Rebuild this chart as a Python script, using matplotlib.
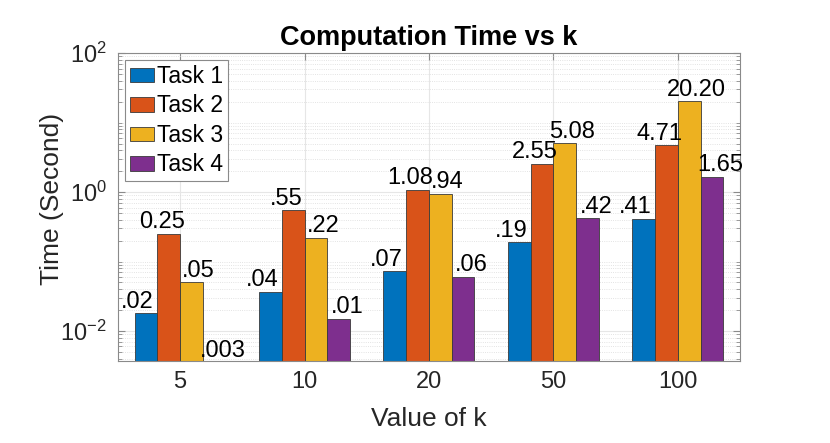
import numpy as np
import matplotlib
matplotlib.use("Agg")
import matplotlib.pyplot as plt
from matplotlib.ticker import LogLocator, FixedLocator, NullFormatter

plt.rcParams['font.family'] = ['Liberation Sans', 'DejaVu Sans']
plt.rcParams['mathtext.fontset'] = 'custom'
plt.rcParams['mathtext.rm'] = 'Liberation Sans'
plt.rcParams['mathtext.it'] = 'Liberation Sans:italic'
plt.rcParams['mathtext.bf'] = 'Liberation Sans:bold'

# data
k_values = ['5', '10', '20', '50', '100']
series_names = ['Task 1', 'Task 2', 'Task 3', 'Task 4']
task1 = [0.018, 0.037, 0.072, 0.19, 0.41]
task2 = [0.25, 0.55, 1.08, 2.55, 4.71]
task3 = [0.05, 0.22, 0.94, 5.08, 20.20]
task4 = [0.0035, 0.015, 0.06, 0.42, 1.65]
labels1 = ['.02', '.04', '.07', '.19', '.41']
labels2 = ['0.25', '.55', '1.08', '2.55', '4.71']
labels3 = ['.05', '.22', '.94', '5.08', '20.20']
labels4 = ['.003', '.01', '.06', '.42', '1.65']

series = [task1, task2, task3, task4]
labels = [labels1, labels2, labels3, labels4]
colors = ['#0072BD', '#D95319', '#EDB120', '#7E2F8E']
label_dx = [-6, -5, 5, 6]   # points, label shift per series

fig = plt.figure(figsize=(8.3, 4.43), dpi=100)
ax = fig.add_axes([0.142, 0.185, 0.7496, 0.695])

x = np.arange(1, len(k_values) + 1)
w = 0.183
for i, (vals, name) in enumerate(zip(series, series_names)):
    pos = x + (i - 1.5) * w
    ax.bar(pos, vals, width=w, color=colors[i], edgecolor='#3a3a3a',
           linewidth=0.6, label=name, zorder=2)
    for p, v, t in zip(pos, vals, labels[i]):
        ax.annotate(t, (p, v), xytext=(label_dx[i], 4), textcoords='offset points',
                    ha='center', va='baseline', fontsize=17, color='black',
                    annotation_clip=False)

ax.set_yscale('log')
ax.set_ylim(0.0037, 100)
ax.set_xlim(0.5, 5.5)
ax.set_xticks(x)
ax.set_xticklabels(k_values)
ax.yaxis.set_major_locator(FixedLocator([1e-2, 1e0, 1e2]))
ax.set_yticklabels(['$10^{-2}$', '$10^{0}$', '$10^{2}$'])
ax.yaxis.set_minor_locator(LogLocator(base=10, subs=np.arange(1, 10), numticks=50))
ax.yaxis.set_minor_formatter(NullFormatter())

ax.set_axisbelow(True)
ax.grid(True, which='major', color='#e6e6e6', linewidth=0.8, linestyle='-')
ax.grid(True, which='minor', axis='y', color='#dadada', linewidth=0.6, linestyle=':')

for s in ax.spines.values():
    s.set_color('#8a8a8a')
    s.set_linewidth(0.8)
ax.tick_params(which='both', direction='in', top=True, right=True,
               colors='#262626')
ax.tick_params(which='major', length=5, color='#8a8a8a')
ax.tick_params(which='minor', length=3, color='#8a8a8a')
ax.tick_params(axis='x', labelsize=17, pad=7)
ax.tick_params(axis='y', labelsize=17, pad=8)

ax.set_xlabel('Value of k', fontsize=19, color='#262626', labelpad=10)
ax.set_ylabel('Time (Second)', fontsize=19, color='#262626')
ax.yaxis.set_label_coords(-0.087, 0.526)
ax.set_title('Computation Time vs k', fontsize=19.5, fontweight='bold', pad=6)

leg = ax.legend(loc='upper left', fontsize=16.5, frameon=True, fancybox=False,
                borderaxespad=0.3, borderpad=0.22, labelspacing=0.28,
                handlelength=1.05, handleheight=0.6, handletextpad=0.12)
leg.get_frame().set_edgecolor('#8a8a8a')
leg.get_frame().set_linewidth(0.8)
leg.get_frame().set_alpha(1)

fig.savefig('out.png', dpi=100)
